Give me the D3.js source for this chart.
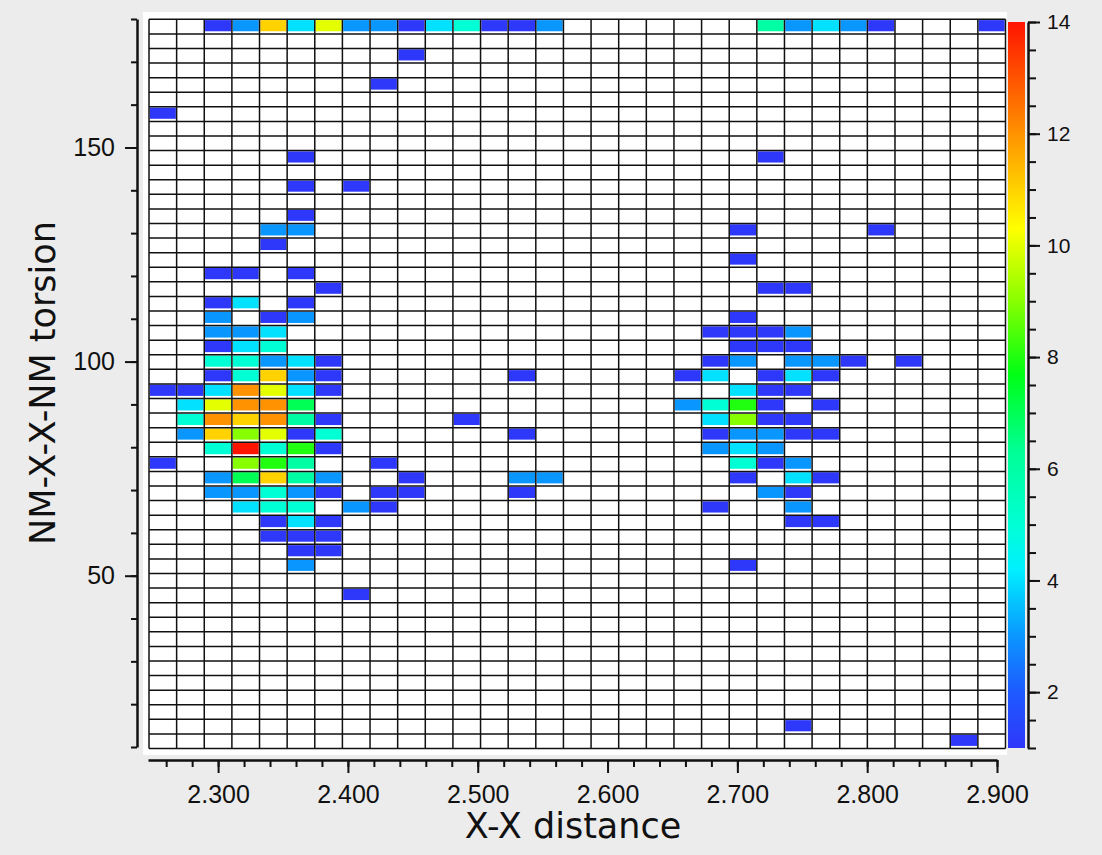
<!DOCTYPE html>
<html>
<head>
<meta charset="utf-8">
<script src="https://cdn.jsdelivr.net/npm/d3@7"></script>
<style>
    body { margin: 0; background: #ececec; }
    svg { display: block; font-family: "DejaVu Sans", sans-serif; }
</style>
</head>
<body>
<svg id="chart"></svg>
<script>
// 31 distance bins (columns) x 50 torsion bins (rows, counted from the top)
const colIndex = d3.range(31);
const rowIndex = d3.range(50);

// non-empty bins: [column, row from top, count]
const cells = [
    [2,0,1],[3,0,3],[4,0,11],[5,0,4],[6,0,10],[7,0,3],[8,0,3],[9,0,1],[10,0,4],[11,0,5],
    [12,0,1],[13,0,1],[14,0,3],[22,0,6],[23,0,3],[24,0,4],[25,0,3],[26,0,1],[30,0,1],
    [9,2,1],[8,4,1],[0,6,1],[5,9,1],[22,9,1],[5,11,1],[7,11,1],[5,13,1],
    [4,14,3],[5,14,3],[21,14,1],[26,14,1],[4,15,1],[21,16,1],
    [2,17,1],[3,17,1],[5,17,1],[6,18,1],[22,18,1],[23,18,1],
    [2,19,1],[3,19,4],[5,19,1],
    [2,20,3],[4,20,1],[5,20,3],[21,20,1],
    [2,21,3],[3,21,3],[4,21,4],[20,21,1],[21,21,1],[22,21,1],[23,21,3],
    [2,22,1],[3,22,4],[4,22,5],[21,22,1],[22,22,1],[23,22,1],
    [2,23,5],[3,23,5],[4,23,3],[5,23,4],[6,23,1],[20,23,1],[21,23,3],[23,23,3],[24,23,3],[25,23,1],[27,23,1],
    [2,24,1],[3,24,5],[4,24,11],[5,24,3],[6,24,1],[13,24,1],[19,24,1],[20,24,4],[22,24,1],[23,24,4],[24,24,1],
    [0,25,1],[1,25,1],[2,25,4],[3,25,12],[4,25,10],[5,25,4],[6,25,1],[21,25,4],[22,25,1],[23,25,1],
    [1,26,4],[2,26,10],[3,26,12],[4,26,12],[5,26,7],[19,26,3],[20,26,5],[21,26,8],[22,26,1],[24,26,1],
    [1,27,5],[2,27,12],[3,27,11],[4,27,12],[5,27,6],[6,27,1],[11,27,1],[20,27,4],[21,27,9],[22,27,1],[23,27,1],
    [1,28,3],[2,28,11],[3,28,9],[4,28,10],[5,28,1],[6,28,5],[13,28,1],[20,28,1],[21,28,3],[22,28,3],[23,28,1],[24,28,1],
    [2,29,5],[3,29,14],[4,29,5],[5,29,8],[6,29,1],[20,29,3],[21,29,4],[22,29,3],
    [0,30,1],[3,30,9],[4,30,8],[5,30,6],[8,30,1],[21,30,5],[22,30,1],[23,30,3],
    [2,31,3],[3,31,7],[4,31,11],[5,31,6],[6,31,3],[9,31,1],[13,31,3],[14,31,3],[21,31,1],[23,31,4],[24,31,1],
    [2,32,3],[3,32,3],[4,32,5],[5,32,3],[6,32,1],[8,32,1],[9,32,1],[13,32,1],[22,32,3],[23,32,1],
    [3,33,4],[4,33,5],[5,33,5],[7,33,3],[8,33,1],[20,33,1],[23,33,3],
    [4,34,1],[5,34,4],[6,34,1],[23,34,1],[24,34,1],
    [4,35,1],[5,35,1],[6,35,1],[5,36,1],[6,36,1],
    [5,37,3],[21,37,1],[7,39,1],[23,48,1],[29,49,1]
];

// tick labels
const xTicks = [2.3, 2.4, 2.5, 2.6, 2.7, 2.8, 2.9];
const yTicks = [50, 100, 150];
const cTicks = [2, 4, 6, 8, 10, 12, 14];

// colour map stops (value -> colour)
const colorStops = [1, 2, 3, 4.2, 5, 6.3, 7.7, 9, 10.3, 12, 14];
const colorValues = ["#2e38fa", "#1e5aff", "#0a96ff", "#00f0ff", "#00ffd4", "#00ff96",
    "#00ff14", "#88ff00", "#ffff00", "#ff9200", "#ff1400"];

const width = 1102;
const height = 855;

let svg = d3.select("#chart")
    .attr("width", width)
    .attr("height", height);

const color = d3.scaleLinear()
    .domain(colorStops)
    .range(colorValues)
    .clamp(true);

// grid scales
const scCol = d3.scaleBand().domain(colIndex).range([149, 1005.5]);
const scRow = d3.scaleBand().domain(rowIndex).range([19.3, 748.5]);

// axis scales
const scX = d3.scaleLinear().domain([2.246, 2.9]).range([148, 997]);
const scY = d3.scaleLinear().domain([10, 180]).range([747, 19]);
const scC = d3.scaleLinear().domain([1, 14]).range([748, 22]);

// white panel behind the grid
svg.append("rect")
    .attr("x", 143).attr("y", 12)
    .attr("width", 864).attr("height", 743)
    .attr("fill", "#fff");

// coloured bins
svg.append("g")
    .selectAll("rect")
    .data(cells)
    .join("rect")
    .attr("x", d => scCol(d[0]) + 0.8)
    .attr("y", d => scRow(d[1]) + 0.8)
    .attr("width", scCol.bandwidth() - 1.6)
    .attr("height", scRow.bandwidth() - 3.4)
    .attr("fill", d => color(d[2]));

// grid lines
let grid = svg.append("g").attr("stroke", "#111").attr("stroke-width", 1.5);
const x0 = scCol.range()[0], x1 = scCol.range()[1];
const y0 = scRow.range()[0], y1 = scRow.range()[1];
grid.selectAll(".v")
    .data(colIndex.concat([colIndex.length]))
    .join("line")
    .attr("x1", d => x0 + d * scCol.step())
    .attr("x2", d => x0 + d * scCol.step())
    .attr("y1", y0).attr("y2", y1);
grid.selectAll(".h")
    .data(rowIndex.concat([rowIndex.length]))
    .join("line")
    .attr("y1", d => y0 + d * scRow.step())
    .attr("y2", d => y0 + d * scRow.step())
    .attr("x1", x0).attr("x2", x1);

function styleAxis(g, fontSize) {
    g.select(".domain").attr("stroke", "#111").attr("stroke-width", 2.5);
    g.selectAll(".tick line").attr("stroke", "#111").attr("stroke-width", 2);
    g.selectAll(".tick text").attr("fill", "#111").style("font-size", fontSize + "px");
}

// x axis
const xMinor = d3.range(2.26, 2.901, 0.02);
svg.append("g")
    .attr("transform", "translate(0,760)")
    .call(d3.axisBottom(scX).tickValues(xMinor).tickSize(7).tickSizeOuter(0).tickFormat(""))
    .call(g => styleAxis(g, 25));
svg.append("g")
    .attr("transform", "translate(0,760)")
    .call(d3.axisBottom(scX).tickValues(xTicks).tickSize(13).tickSizeOuter(0)
        .tickPadding(12).tickFormat(d3.format(".3f")))
    .call(g => styleAxis(g, 25))
    .call(g => g.select(".domain").remove());

// y axis
const yMinor = d3.range(10, 181, 10);
svg.append("g")
    .attr("transform", "translate(137,0)")
    .call(d3.axisLeft(scY).tickValues(yMinor).tickSize(6).tickSizeOuter(0).tickFormat(""))
    .call(g => styleAxis(g, 25));
svg.append("g")
    .attr("transform", "translate(137,0)")
    .call(d3.axisLeft(scY).tickValues(yTicks).tickSize(12).tickSizeOuter(0).tickPadding(10))
    .call(g => styleAxis(g, 25))
    .call(g => g.select(".domain").remove());

// colour bar
let grad = svg.append("defs").append("linearGradient")
    .attr("id", "cbar")
    .attr("x1", 0).attr("y1", 1).attr("x2", 0).attr("y2", 0);
grad.selectAll("stop")
    .data(colorStops)
    .join("stop")
    .attr("offset", d => (d - 1) / 13)
    .attr("stop-color", d => color(d));

svg.append("rect")
    .attr("x", 1008).attr("y", scC(14))
    .attr("width", 17).attr("height", scC(1) - scC(14))
    .attr("fill", "url(#cbar)");

const cMinor = d3.range(1, 14.01, 0.5);
svg.append("g")
    .attr("transform", "translate(1028,0)")
    .call(d3.axisRight(scC).tickValues(cMinor).tickSize(8).tickSizeOuter(0).tickFormat(""))
    .call(g => styleAxis(g, 21));
svg.append("g")
    .attr("transform", "translate(1028,0)")
    .call(d3.axisRight(scC).tickValues(cTicks).tickSize(12).tickSizeOuter(0).tickPadding(7))
    .call(g => styleAxis(g, 21))
    .call(g => g.select(".domain").remove());

// axis titles
svg.append("text")
    .attr("x", 573).attr("y", 838)
    .attr("text-anchor", "middle")
    .attr("fill", "#111")
    .style("font-size", "35px")
    .text("X-X distance");

svg.append("text")
    .attr("transform", "translate(55,383) rotate(-90)")
    .attr("text-anchor", "middle")
    .attr("fill", "#111")
    .style("font-size", "35px")
    .text("NM-X-X-NM torsion");
</script>
</body>
</html>
